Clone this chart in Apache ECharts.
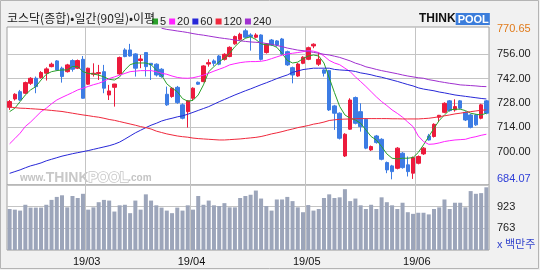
<!DOCTYPE html>
<html><head><meta charset="utf-8">
<script src="https://cdn.jsdelivr.net/npm/echarts@6/dist/echarts.min.js"></script>
<style>html,body{margin:0;padding:0;background:#f1f1f1}#c{width:540px;height:270px}</style>
</head><body><div id="c"></div>
<script>
// ---- trading days (2019) ----
const febDays=[8,11,12,13,14,15,18,19,20,21,22,25,26,27,28];
const marDays=[4,5,6,7,8,11,12,13,14,15,18,19,20,21,22,25,26,27,28,29];
const aprDays=[1,2,3,4,5,8,9,10,11,12,15,16,17,18,19,22,23,24,25,26,29,30];
const mayDays=[2,3,7,8,9,10,13,14,15,16,17,20,21,22,23,24,27,28,29,30,31];
const junDays=[3,4,5,7,10,11,12,13,14,17,18,19,20,21];

const titleText='코스닥(종합)•일간(90일)•이평';
const maNames=['5','20','60','120','240'];
const priceTicks=[700,714,728,742,756];
const priceHigh=770.65;
const priceLow=684.07;
const volTickLabels=[763,923];
const volUnit='x 백만주';

const opens=[725.5,730.3,734.5,733.6,739.3,742.2,742.6,745.1,748.9,752.2,
748.0,746.0,752.4,748.0,753.1,738.8,744.5,744.9,746.0,732.6,
737.0,744.7,758.5,758.5,756.2,752.4,757.0,750.8,750.3,747.4,
733.0,731.7,737.0,726.9,723.0,730.7,739.9,740.3,750.4,752.2,
755.0,753.1,754.7,762.0,764.6,769.5,767.1,765.8,767.1,757.0,
764.2,763.7,764.8,757.5,748.3,743.5,750.8,753.1,760.8,750.3,
747.0,746.6,726.3,722.1,697.5,712.9,731.1,723.0,718.6,701.0,
709.0,707.1,693.7,691.8,690.4,699.1,692.4,687.6,693.3,698.7,
709.0,708.7,719.8,722.6,729.2,724.0,729.2,722.6,721.1,721.1,
719.2,729.2];
const closes=[728.8,733.0,729.7,739.7,742.2,737.4,745.5,747.6,750.3,747.0,
743.2,749.9,747.4,752.4,730.7,748.0,745.1,745.5,736.5,734.9,
738.9,754.1,754.7,755.0,748.0,753.3,748.9,749.9,744.1,743.2,
726.9,736.5,728.2,719.2,729.2,736.5,738.8,749.3,751.2,750.8,
750.3,756.0,760.0,766.2,767.5,765.8,766.2,767.1,753.1,762.0,
761.4,761.4,756.2,749.9,744.1,750.4,754.3,759.8,761.8,753.1,
745.1,724.0,722.1,707.7,710.0,729.7,716.3,714.4,702.0,702.9,
705.2,695.6,689.5,688.5,702.0,690.8,688.5,696.6,697.2,702.0,
706.7,715.7,720.9,727.8,723.6,725.9,725.0,718.2,714.0,715.4,
726.9,722.1];
const lows=[724.0,729.4,729.2,733.0,738.4,733.6,742.0,740.9,748.5,746.5,
739.7,745.5,746.0,747.5,730.5,738.4,743.2,741.2,733.6,729.7,
725.9,744.1,754.3,754.7,743.2,748.0,743.2,741.2,743.2,742.5,
726.3,731.0,727.5,718.6,713.8,729.4,738.4,739.9,748.9,749.3,
749.7,752.4,754.3,761.5,764.0,765.2,758.1,765.2,752.4,756.4,
760.8,760.4,755.6,749.3,739.3,743.0,750.3,752.6,759.5,749.3,
743.2,723.4,712.5,707.0,696.9,712.5,715.7,711.5,701.4,700.4,
704.6,695.0,687.6,684.07,689.8,690.2,685.7,684.3,692.7,698.1,
706.4,708.1,717.3,722.1,723.0,723.0,724.4,717.6,713.4,714.8,
718.6,721.5];
const highs=[729.7,733.6,735.5,740.3,742.8,743.2,746.3,748.5,751.2,752.7,
748.9,750.5,753.1,753.0,755.0,748.3,750.8,749.9,749.9,738.4,
739.0,754.7,759.5,762.0,756.6,755.6,757.0,750.8,750.8,748.0,
737.4,737.0,737.8,727.8,729.7,737.0,740.3,749.7,753.1,753.1,
755.6,756.6,760.6,766.8,768.4,770.65,768.1,768.1,767.5,762.5,
764.8,764.2,765.4,758.1,748.9,751.0,754.9,760.4,762.3,757.0,
747.4,747.0,726.9,722.6,710.6,730.7,731.7,727.8,719.2,703.5,
709.6,707.7,694.3,692.4,702.6,699.7,697.2,697.2,697.8,702.6,
710.2,716.3,721.1,728.4,729.7,730.1,729.7,723.2,721.7,721.7,
727.5,729.7];
const volumes=[906,901,894,937,916,916,916,937,973,995,
1007,918,1002,987,1018,901,918,956,973,968,
887,933,937,875,968,901,1014,968,933,916,
894,875,916,894,933,901,1002,937,968,933,
928,949,918,918,987,1002,1011,1042,983,928,
894,976,976,995,964,918,882,935,894,906,
987,1014,987,992,1052,964,983,933,906,937,
906,992,956,933,906,952,882,870,878,878,
866,906,918,976,906,952,952,918,1038,1018,
1023,1066];
const ma5=[723,725,728.8,732.6,735.5,737.4,741.2,744.5,746,746.6,
747,747,749,749,746,745,744.7,744,743,741.6,
741.2,743,747,750,751,751,751,750,747,744,
739,736.5,734.5,730.5,729,729.5,732.6,738.4,746,748.9,
751.8,753.7,756.6,760.4,763.3,765.2,766.1,764.5,762,761.4,
761.4,760,756.5,752.5,751,751.5,753.5,755,755.6,755,
751,742.5,734,726,721.1,719.2,718.2,716.3,712.5,708.7,
706.7,702.9,698.7,696.2,695.8,696.2,696.2,696.6,699.5,703.9,
708.7,713.4,717.9,721.1,724,724.4,724.4,723.6,722.1,721.5,
721.1,722.1];
const ma20=[704.5,707.5,710.6,714.5,717,720,723,725,727.5,729.7,
731.2,732.6,734,735.5,736.5,737.5,738.5,739.3,740.5,742,
743,744,745,746,746.3,746.6,746.6,746.6,746,745.1,
744.5,743.5,742.7,742.3,742.2,742.5,743.2,744,745.1,746.3,
747.4,748.5,749.9,750.6,751.2,751.6,751.8,751.8,752,752.5,
753.5,754.5,755.5,756.2,756.6,757,757.5,758.1,757.8,757,
755,752.5,751,750,748,746,743,740.3,737.5,734.5,
731.5,728.8,726.5,724,722,719.8,717,714.4,709,705.8,
704.2,704.4,705,705.8,706.3,706.7,706.9,707.1,708,708.6,
709.4,710];
const ma60=[687.5,688.5,689.5,690.7,691.8,692.6,693.5,694.7,695.6,696.5,
697.4,698.1,698.8,699.4,700,700.6,701.3,702,702.7,703.4,
704.3,705.5,707.2,709,710.8,712.3,713.8,715.2,716.3,717.6,
718.5,719.2,720,720.6,721.5,722.6,723.7,724.8,725.9,727.3,
728.7,730,731.3,732.6,733.8,735,736.1,737.3,738.5,739.6,
740.8,742,743.1,744.1,745.6,746.4,747.2,747.6,748,748,
748,748,747.3,747,746.8,746.6,746.1,745.3,744.8,744.2,
743.4,742.8,742,741.2,740.4,739.5,738.6,737.8,736.7,736,
735.5,735,734.3,733.8,733.2,732.6,732.2,731.8,731.4,731,
730.6,730.3];
const ma120=[725.7,725.3,725,724.9,724.7,724.5,724.3,724,723.7,723.4,
723.1,722.6,722.1,721.6,721.1,720.7,720.2,719.8,719.2,718.5,
718,717.3,716.6,715.9,715.2,714.4,713.8,713,711.8,711,
710.2,709.6,709,708.6,708.3,707.8,707.5,707.3,707.1,706.9,
706.7,706.7,706.9,707.1,707.3,707.6,707.9,708.2,708.7,709.4,
710.2,710.8,711.5,712.3,713,713.8,714.4,715,715.8,716.3,
717,717.9,718.3,718.6,718.7,718.8,718.9,719,719,719,
719,719,719,718.9,718.9,718.8,718.8,718.8,718.8,719,
719.2,719.6,720.1,720.6,721.1,721.7,722.1,722.6,723,723.4,
723.8,724];
const ma240=[null,null,null,null,null,null,null,null,null,null,
null,null,null,null,null,null,null,null,null,null,
null,null,null,null,null,null,null,null,null,771.0,
770.3,769.9,769.4,769,768.5,767.9,767.4,767,766.5,766,
765.5,765.1,764.7,764.2,763.8,763.4,763.1,762.9,762.7,762.2,
761.7,761.1,760.4,759.6,759,758.4,758.1,757.6,757.1,756.6,
756,755.6,754.9,754.2,753.2,752.2,750.9,750,748.8,748.1,
747.3,746.6,746,745.4,744.8,744.1,743.5,743,742.5,742.2,
741.4,740.9,740.3,739.8,739.3,738.9,738.4,738.2,738,737.8,
737.5,737.4];

// ---- build tables for the library ----
const pad=n=>(n<10?'0':'')+n;
const categories=[];
[[2,febDays],[3,marDays],[4,aprDays],[5,mayDays],[6,junDays]].forEach(([m,days])=>{
  days.forEach(d=>categories.push('2019-'+pad(m)+'-'+pad(d)));
});
const monthStarts=categories.map((c,i)=>i>0&&c.slice(5,7)!==categories[i-1].slice(5,7)?i:-1).filter(i=>i>=0);
const isMonthStart=i=>monthStarts.indexOf(i)>=0;
const ohlc=opens.map((o,i)=>[o,closes[i],lows[i],highs[i]]);
const maData=[ma5,ma20,ma60,ma120,ma240];
const maColors=['#2aa02a','#ff22ff','#2828d8','#f0283c','#a030d0'];

const NUM='"Liberation Sans", "Noto Sans CJK KR", sans-serif';
const KR='"Noto Sans CJK KR", "Liberation Sans", sans-serif';
const UP='#ec1a3c', DOWN='#3c7ce4';

const chart=echarts.init(document.getElementById('c'));
const option={
  backgroundColor:'#f1f1f1',
  animation:false,
  textStyle:{fontFamily:NUM},
  title:[
    {text:titleText,left:7,top:12,padding:0,textStyle:{fontFamily:KR,fontSize:12,fontWeight:'normal',color:'#222'}},
    {text:'{t|THINK}{p|POOL}',left:419,top:13,padding:0,textStyle:{rich:{
      t:{fontFamily:NUM,fontWeight:'bold',fontSize:12,color:'#111'},
      p:{fontFamily:NUM,fontWeight:'bold',fontSize:11,color:'#fff',backgroundColor:'#3b7ddb',padding:[1,1,0,2]}}}},
    {text:'{s|www.}{b|THINK}{o|POOL}{s|.com}',left:20,top:171,padding:0,textStyle:{rich:{
      s:{fontFamily:NUM,fontSize:10,color:'#c4c4c4'},
      b:{fontFamily:NUM,fontWeight:'bold',fontSize:14,color:'#c8c8c8'},
      o:{fontFamily:NUM,fontWeight:'bold',fontSize:14,color:'#ffffff',textBorderColor:'#c4c4c4',textBorderWidth:1.5}}}},
    {text:volUnit,left:497,top:238,padding:0,textStyle:{fontFamily:KR,fontSize:11,fontWeight:'normal',color:'#3344cc'}}
  ],
  legend:{data:maNames,left:152,top:16,padding:0,itemWidth:6,itemHeight:6,itemGap:3,icon:'rect',
    selectedMode:false,textStyle:{fontFamily:NUM,fontSize:11,color:'#222',padding:[0,0,0,-3]}},
  graphic:[{type:'rect',silent:true,z:100,shape:{x:0.5,y:0.5,width:538,height:268},style:{fill:'none',stroke:'#b4b4b4',lineWidth:1}}],
  grid:[
    {left:7,top:27,width:482,height:158,show:true,backgroundColor:'#fff',borderColor:'#a0a0a0',borderWidth:1},
    {left:7,top:185,width:482,height:65,show:true,backgroundColor:'#fff',borderColor:'#a0a0a0',borderWidth:1}
  ],
  xAxis:[
    {type:'category',gridIndex:0,data:categories,boundaryGap:true,
      axisLine:{show:false},axisTick:{show:false},axisLabel:{show:false},
      splitLine:{show:true,interval:(i)=>isMonthStart(i),lineStyle:{color:'#c4c4c4',width:1}}},
    {type:'category',gridIndex:1,data:categories,boundaryGap:true,
      axisLine:{show:false},axisTick:{show:false},
      axisLabel:{show:true,interval:(i)=>isMonthStart(i),margin:6,fontSize:11,color:'#111',fontFamily:NUM,padding:[0,3,0,0],
        formatter:(v)=>v.slice(2,4)+'/'+v.slice(5,7)},
      splitLine:{show:true,interval:(i)=>isMonthStart(i),lineStyle:{color:'#c4c4c4',width:1}}}
  ],
  yAxis:[
    {type:'value',gridIndex:0,position:'right',min:680.8,max:771.7,
      axisLine:{show:false},axisTick:{show:false,customValues:priceTicks},
      splitLine:{show:true,lineStyle:{color:'#c4c4c4',width:1}},
      axisLabel:{customValues:[priceLow].concat(priceTicks,[priceHigh]),margin:8,fontSize:11,fontFamily:NUM,
        formatter:(v)=>v===priceHigh?'{hi|'+v.toFixed(2)+'}':(v===priceLow?'{lo|'+v.toFixed(2)+'}':'{n|'+v.toFixed(2)+'}'),
        rich:{hi:{color:'#e07a1a',fontSize:11,fontFamily:NUM},lo:{color:'#3040d8',fontSize:11,fontFamily:NUM},n:{color:'#222',fontSize:11,fontFamily:NUM}}}},
    {type:'value',gridIndex:1,position:'right',min:603,max:1083,interval:160,
      axisLine:{show:false},axisTick:{show:false},
      splitLine:{show:true,lineStyle:{color:'#c4c4c4',width:1}},
      axisLabel:{margin:8,fontSize:11,color:'#222',fontFamily:NUM,showMinLabel:false,showMaxLabel:false,
        formatter:(v)=>volTickLabels.indexOf(v)>=0?String(v):''}}
  ],
  series:[
    {type:'candlestick',name:'price',xAxisIndex:0,yAxisIndex:0,data:ohlc,barWidth:4,clip:false,
      itemStyle:{color:UP,color0:DOWN,borderColor:UP,borderColor0:DOWN,borderWidth:1}}
  ].concat(maNames.map((n,k)=>({
    type:'line',name:n,xAxisIndex:0,yAxisIndex:0,data:maData[k],symbol:'none',showSymbol:false,
    connectNulls:false,clip:true,color:maColors[k],lineStyle:{color:maColors[k],width:1},z:3
  }))).concat([
    {type:'bar',name:'vol',xAxisIndex:1,yAxisIndex:1,data:volumes,barWidth:4,itemStyle:{color:'#9ca5ba'}}
  ])
};
chart.setOption(option);
</script>
</body></html>
